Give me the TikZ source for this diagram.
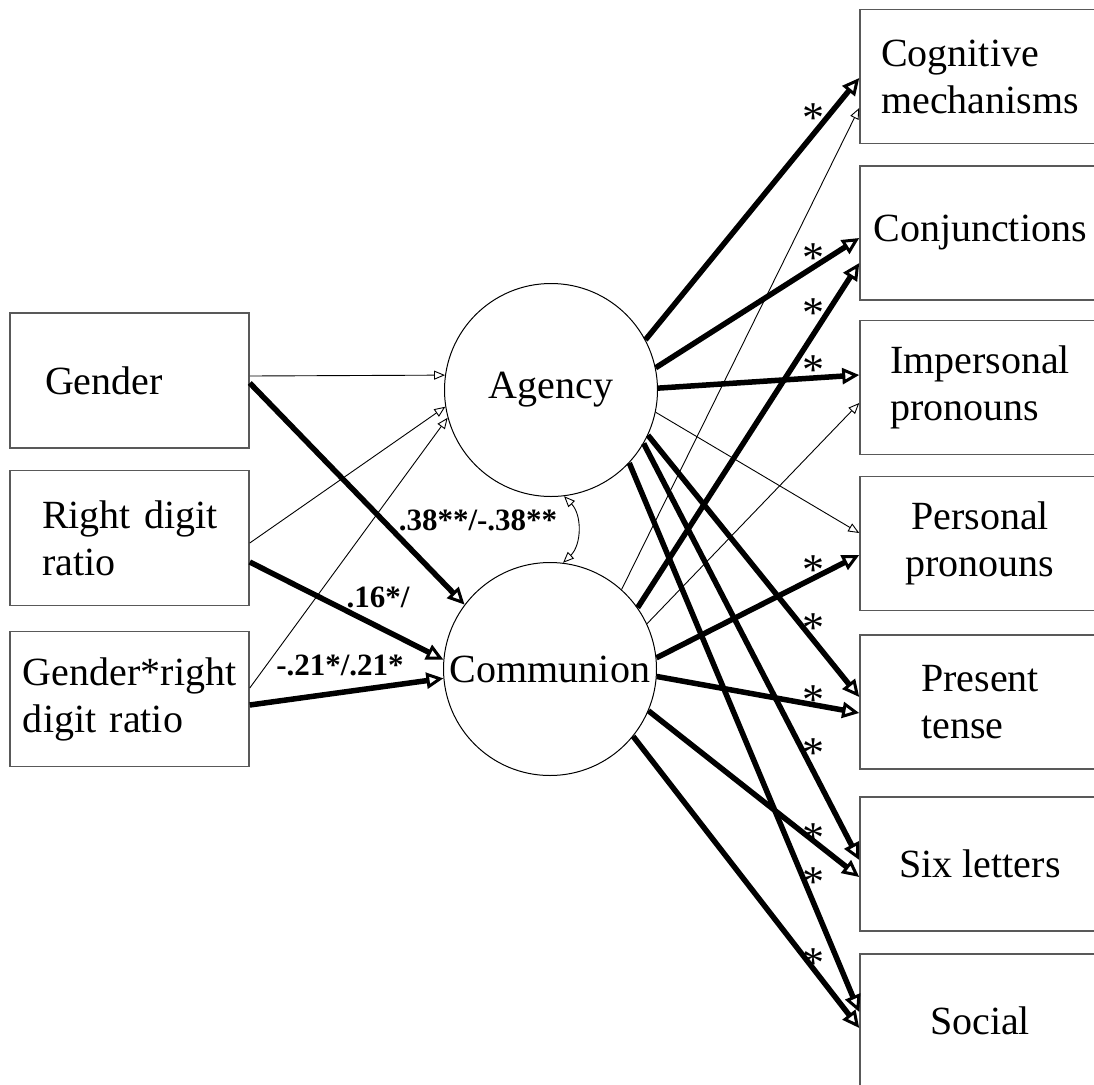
\documentclass[tikz,border=0pt]{standalone}
\usepackage{fontspec}
\setmainfont{Liberation Serif}
\usetikzlibrary{arrows.meta}

\begin{document}
\begin{tikzpicture}[
        x=1pt, y=-1pt,
        font=\fontsize{40}{47}\selectfont
    ]
    \tikzset{
        predbox/.style = {rectangle, draw=black!65, line width=1.5pt, minimum height=135pt, align=left},
        outbox/.style = {rectangle, draw=black!65, line width=1.5pt, minimum width=240pt, minimum height=134pt},
        latent/.style = {circle, draw=black, line width=1pt, minimum size=213pt, inner sep=0pt},
        thickarr/.style = {line width=5.5pt, -{Triangle[length=17pt, width=16pt, line width=3pt, fill=white]}},
        thinarr/.style = {line width=0.9pt, -{Triangle[length=11pt, width=9pt, fill=white]}},
        covarr/.style = {line width=0.9pt, {Triangle[length=11pt, width=9pt, fill=white]}-{Triangle[length=11pt, width=9pt, fill=white]}},
        sig/.style = {font=\fontsize{44}{46}\selectfont, inner sep=0pt, yshift=-5pt},
        coef/.style = {font=\fontsize{31}{36}\selectfont\bfseries, inner sep=0pt},
    }
    \useasboundingbox (0,0) rectangle (1094,1084);
    % predictors
    \node[predbox, inner xsep=35pt, text width=169pt] (gen) at (129.5,380.5) {Gender};
    \node[predbox, inner xsep=32pt, text width=175pt] (rdr) at (129.5,538) {Right~digit\\ratio};
    \node[predbox, inner xsep=13pt, text width=213pt] (int) at (129.5,699) {Gender*right\\digit ratio};
    % latent factors
    \node[latent] (agency) at (551,390) {Agency};
    \node[latent] (communion) at (550,669) {Communion};
    % word categories
    \node[outbox, align=left] (cog) at (980,76.5) {Cognitive\\mechanisms};
    \node[outbox] (conj) at (980,233) {Conjunctions};
    \node[outbox, align=left] (imp) at (980,387.5) {Impersonal\\pronouns};
    \node[outbox, align=center] (pers) at (980,543.5) {Personal\\pronouns};
    \node[outbox, align=left] (pres) at (980,702) {Present\\tense};
    \node[outbox] (six) at (980,864) {Six letters};
    \node[outbox] (soc) at (980,1021) {Social};
    %
    \draw[thinarr] ([yshift=4.5pt]gen.east) -- (agency.172);
    \draw[thinarr] ([yshift=-5pt]rdr.east) -- (agency.189);
    \draw[thinarr] ([yshift=11pt]int.east) -- (agency.195);
    %
    \draw[thickarr] ([yshift=-2.5pt]gen.east) -- (communion.143);
    \draw[thickarr] ([yshift=-24pt]rdr.east) -- (communion.175);
    \draw[thickarr] ([yshift=-6pt]int.east) -- (communion.185);
    %
    \draw[covarr] (agency.-83) to[bend left=45] (communion.83);
    %
    \draw[thickarr] (agency.28) -- ([yshift=-1.5pt]cog.west);
    \draw[thinarr] (communion.48) -- ([yshift=-31.5pt]cog.west);
    \draw[thickarr] (agency.12) -- ([yshift=-5pt]conj.west);
    \draw[thickarr] (communion.35) -- ([yshift=-30pt]conj.west);
    \draw[thickarr] (agency.1) -- ([yshift=12.5pt]imp.west);
    \draw[thinarr] (communion.25) -- ([yshift=-15.5pt]imp.west);
    \draw[thinarr] (agency.-12) -- ([yshift=10.5pt]pers.west);
    \draw[thickarr] (communion.6) -- ([yshift=-11.5pt]pers.west);
    \draw[thickarr] (agency.-25) -- ([yshift=5pt]pres.west);
    \draw[thickarr] (communion.-4) -- ([yshift=-11pt]pres.west);
    \draw[thickarr] (agency.-30) -- ([yshift=4pt]six.west);
    \draw[thickarr] (communion.-23) -- ([yshift=-13pt]six.west);
    \draw[thickarr] (agency.-43) -- ([yshift=9pt]soc.west);
    \draw[thickarr] (communion.-39) -- ([yshift=-7pt]soc.west);
    %
    \node[coef] (cov) at (478,520) {.38**/-.38**};
    \node[coef] (brdr) at (378,597) {.16*/};
    \node[coef] (bint) at (340,665) {-.21*/.21*};
    \foreach \y in {113,253,308,365,565,623,695,748,833,877,958}
        \node[sig] (s\y) at (813,\y) {*};
\end{tikzpicture}
\end{document}
